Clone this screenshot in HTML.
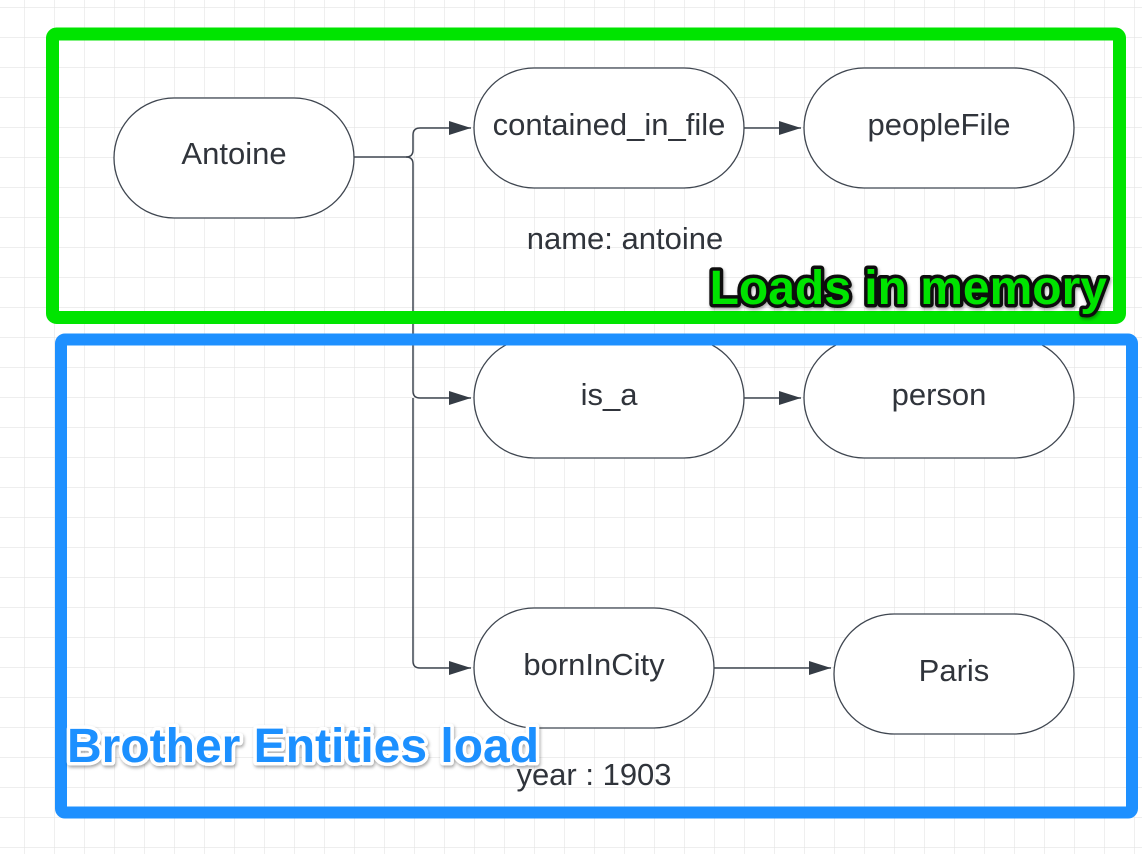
<!DOCTYPE html>
<html><head><meta charset="utf-8"><style>
html,body{margin:0;padding:0;background:#fff;}
svg{display:block;}
text{font-family:"Liberation Sans",sans-serif;}
</style></head><body>
<svg width="1142" height="854" viewBox="0 0 1142 854" xmlns="http://www.w3.org/2000/svg">
<defs>
<pattern id="g" x="24" y="7" width="30" height="30" patternUnits="userSpaceOnUse">
<path d="M0 0H30M0 0V30" stroke="#e4e4e4" stroke-width="1.2" fill="none"/>
</pattern>
<marker id="a" markerWidth="24" markerHeight="14" refX="22" refY="7" orient="auto" markerUnits="userSpaceOnUse">
<path d="M0 0L22 7L0 14Z" fill="#353c45"/>
</marker>
<filter id="sh" x="-5%" y="-20%" width="110%" height="140%">
<feDropShadow dx="1" dy="2" stdDeviation="1.5" flood-color="#000" flood-opacity="0.35"/>
</filter>
</defs>
<rect width="1142" height="854" fill="url(#g)"/>
<g fill="none" stroke="#3f4650" stroke-width="1.5">
<path d="M354 157H406Q413 157 413 150V135Q413 128 420 128H471" marker-end="url(#a)"/>
<path d="M406 157Q413 157 413 164V391Q413 398 420 398H471" marker-end="url(#a)"/>
<path d="M413 398V661Q413 668 420 668H471" marker-end="url(#a)"/>
<path d="M744 128H801" marker-end="url(#a)"/>
<path d="M744 398H801" marker-end="url(#a)"/>
<path d="M714 668H831" marker-end="url(#a)"/>
</g>
<g fill="#fff" stroke="#3f4650" stroke-width="1.3">
<rect x="114" y="98" width="240" height="120" rx="60"/>
<rect x="474" y="68" width="270" height="120" rx="60"/>
<rect x="804" y="68" width="270" height="120" rx="60"/>
<rect x="474" y="338" width="270" height="120" rx="60"/>
<rect x="804" y="338" width="270" height="120" rx="60"/>
<rect x="474" y="608" width="240" height="120" rx="60"/>
<rect x="834" y="614" width="240" height="120" rx="60"/>
</g>
<g fill="#30343b" font-size="31" text-anchor="middle">
<text x="234" y="164">Antoine</text>
<text x="609" y="135">contained_in_file</text>
<text x="939" y="135">peopleFile</text>
<text x="609" y="405">is_a</text>
<text x="939" y="405">person</text>
<text x="594" y="675">bornInCity</text>
<text x="954" y="681">Paris</text>
<text x="625" y="249">name: antoine</text>
<text x="594" y="785">year : 1903</text>
</g>
<rect x="52.5" y="34" width="1067" height="283.5" rx="4" fill="none" stroke="#00e400" stroke-width="13"/>
<rect x="61" y="339.5" width="1071" height="473" rx="4" fill="none" stroke="#1e90ff" stroke-width="12"/>
<text x="1107" y="304" text-anchor="end" font-size="48" font-weight="bold" fill="#00e400" stroke="#111" stroke-width="7" paint-order="stroke" stroke-linejoin="round" filter="url(#sh)">Loads in memory</text>
<text x="67" y="762" font-size="48" font-weight="bold" fill="#1e90ff" stroke="#fff" stroke-width="7" paint-order="stroke" stroke-linejoin="round" filter="url(#sh)">Brother Entities load</text>
</svg>
</body></html>
